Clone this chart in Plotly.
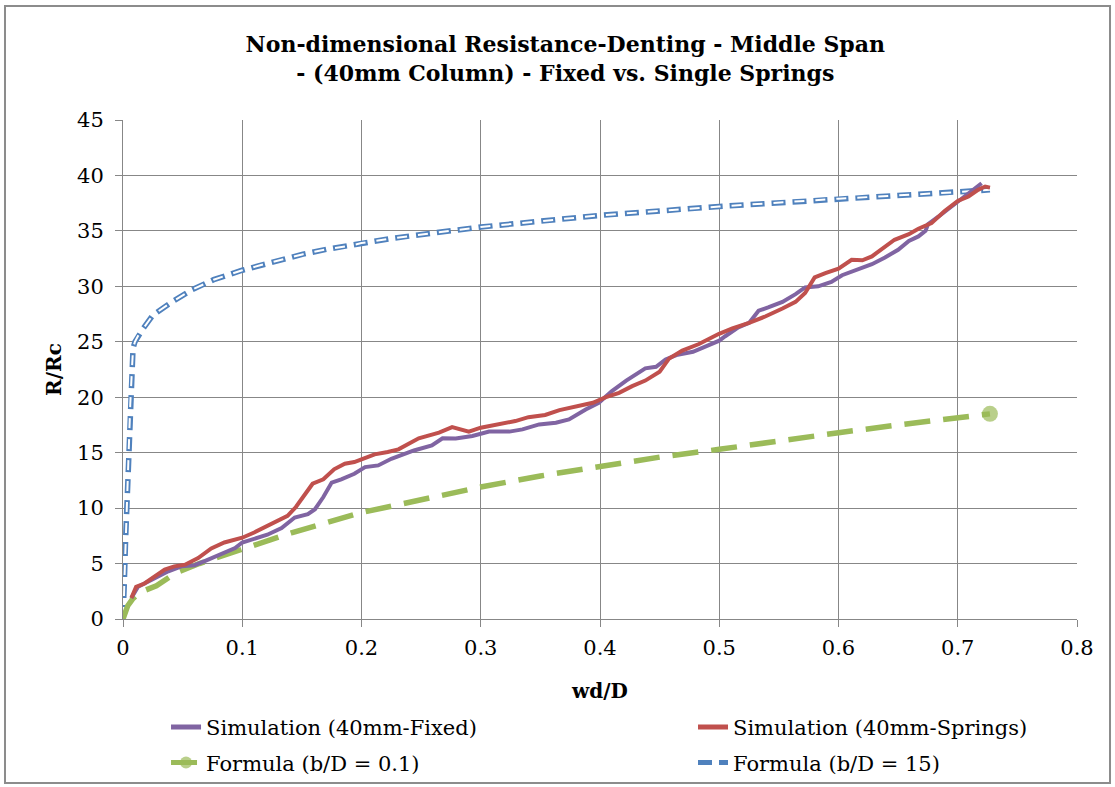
import plotly.graph_objects as go

# Simulation (40mm column, fixed ends)
fixed_x = [0.007, 0.0126, 0.018, 0.027, 0.038, 0.049, 0.06, 0.068, 0.082, 0.094,
           0.1, 0.11, 0.121, 0.133, 0.144, 0.155, 0.161, 0.168, 0.175, 0.183,
           0.194, 0.203, 0.214, 0.225, 0.244, 0.259, 0.268, 0.279, 0.293, 0.307,
           0.324, 0.335, 0.349, 0.363, 0.374, 0.388, 0.399, 0.41, 0.422, 0.438,
           0.447, 0.455, 0.464, 0.478, 0.489, 0.5, 0.505, 0.516, 0.525, 0.533,
           0.541, 0.553, 0.564, 0.572, 0.583, 0.594, 0.603, 0.614, 0.628, 0.639,
           0.65, 0.659, 0.667, 0.673, 0.675, 0.684, 0.695, 0.706, 0.715, 0.72]
fixed_y = [1.9, 2.9, 3.2, 3.7, 4.3, 4.75, 4.85, 5.2, 5.8, 6.4,
           6.9, 7.2, 7.6, 8.2, 9.15, 9.45, 9.9, 11.0, 12.3, 12.6,
           13.1, 13.7, 13.85, 14.45, 15.2, 15.65, 16.3, 16.27, 16.5, 16.9,
           16.9, 17.1, 17.55, 17.7, 18.0, 18.9, 19.5, 20.55, 21.5, 22.6,
           22.75, 23.4, 23.8, 24.1, 24.6, 25.1, 25.5, 26.3, 26.7, 27.8,
           28.1, 28.6, 29.3, 29.9, 30.0, 30.4, 31.0, 31.4, 32.0, 32.6,
           33.3, 34.1, 34.5, 35.0, 35.6, 36.3, 37.2, 38.1, 38.9, 39.3]

# Simulation (40mm column, single springs)
springs_x = [0.007, 0.011, 0.018, 0.027, 0.035, 0.043, 0.052, 0.063, 0.074, 0.085,
             0.1, 0.11, 0.124, 0.138, 0.145, 0.152, 0.159, 0.168, 0.177, 0.186,
             0.194, 0.2, 0.211, 0.222, 0.231, 0.248, 0.265, 0.276, 0.29, 0.3,
             0.315, 0.329, 0.34, 0.354, 0.366, 0.38, 0.394, 0.405, 0.416, 0.427,
             0.438, 0.45, 0.458, 0.469, 0.483, 0.4994, 0.511, 0.525, 0.539, 0.553,
             0.564, 0.572, 0.58, 0.589, 0.6, 0.611, 0.62, 0.628, 0.636, 0.647,
             0.659, 0.667, 0.678, 0.689, 0.7, 0.709, 0.717, 0.723, 0.727]
springs_y = [1.9, 2.9, 3.2, 3.85, 4.45, 4.75, 4.9, 5.5, 6.36, 6.9,
             7.33, 7.8, 8.5, 9.3, 10.1, 11.1, 12.2, 12.6, 13.5, 14.0,
             14.15, 14.4, 14.85, 15.06, 15.3, 16.3, 16.8, 17.3, 16.9, 17.25,
             17.6, 17.85, 18.2, 18.4, 18.84, 19.14, 19.5, 20.0, 20.4, 21.0,
             21.5, 22.3, 23.5, 24.2, 24.8, 25.7, 26.2, 26.7, 27.3, 28.0,
             28.6, 29.4, 30.8, 31.2, 31.6, 32.4, 32.35, 32.7, 33.3, 34.2,
             34.7, 35.2, 35.7, 36.8, 37.7, 38.1, 38.7, 39.0, 38.9]

# Formula, b/D = 0.1
f01_x = [0, 0.004, 0.008, 0.014, 0.028, 0.045, 0.064, 0.092, 0.112, 0.142,
         0.2, 0.25, 0.3, 0.35, 0.4, 0.45, 0.5, 0.55, 0.6, 0.65, 0.7, 0.727]
f01_y = [0, 1.2, 1.8, 2.4, 3.0, 4.2, 5.0, 6.0, 6.7, 7.8,
         9.6, 10.8, 11.9, 12.9, 13.8, 14.6, 15.3, 16.1, 16.8, 17.5, 18.1, 18.5]

# Formula, b/D = 15
f15_x = [0, 0.0006, 0.0011, 0.0022, 0.0036, 0.005, 0.0061, 0.0075, 0.0084, 0.010,
         0.013, 0.017, 0.025, 0.041, 0.058, 0.076, 0.1, 0.115, 0.133, 0.151,
         0.171, 0.19, 0.2, 0.227, 0.3, 0.4, 0.5, 0.6, 0.7, 0.727]
f15_y = [0, 1, 3.2, 7.2, 11.3, 15.7, 19.4, 22.5, 24.4, 25.0,
         25.6, 26.2, 27.4, 28.6, 29.7, 30.6, 31.45, 31.9, 32.4, 32.9,
         33.35, 33.65, 33.9, 34.35, 35.35, 36.4, 37.2, 37.9, 38.5, 38.7]

x_ticks = [0, 0.1, 0.2, 0.3, 0.4, 0.5, 0.6, 0.7, 0.8]
x_tick_labels = ["0", "0.1", "0.2", "0.3", "0.4", "0.5", "0.6", "0.7", "0.8"]
y_ticks = [0, 5, 10, 15, 20, 25, 30, 35, 40, 45]

FONT = "DejaVu Serif"
GRID = "#878787"

fig = go.Figure()

# b/D = 15: blue dashed outline with a white core (compound line look)
fig.add_trace(go.Scatter(
    x=f15_x, y=f15_y, mode="lines", name="Formula (b/D = 15)",
    line=dict(color="#4F81BD", width=5.5, dash="14px,7px"),
    legend="legend4",
))
fig.add_trace(go.Scatter(
    x=f15_x, y=f15_y, mode="lines", showlegend=False, hoverinfo="skip",
    line=dict(color="white", width=2, dash="0px,2px,10px,9px"),
))

# b/D = 0.1: thick green dashes, marker on the final point
f01_sizes = [0] * (len(f01_x) - 1) + [16]
fig.add_trace(go.Scatter(
    x=f01_x, y=f01_y, mode="lines+markers", name="Formula (b/D = 0.1)",
    line=dict(color="#9BBB59", width=5.5, dash="26px,13px"),
    marker=dict(color="#9BBB59", size=f01_sizes, line=dict(width=0)),
    legend="legend3",
))

fig.add_trace(go.Scatter(
    x=fixed_x, y=fixed_y, mode="lines", name="Simulation (40mm-Fixed)",
    line=dict(color="#8064A2", width=4), legend="legend",
))
fig.add_trace(go.Scatter(
    x=springs_x, y=springs_y, mode="lines", name="Simulation (40mm-Springs)",
    line=dict(color="#C0504D", width=4), legend="legend2",
))

# outer chart frame
fig.add_shape(type="rect", xref="paper", yref="paper",
              x0=-0.1237, x1=1.0346, y0=-0.3287, y1=1.2285,
              line=dict(color="#8C8C8C", width=2), layer="below")

legend_common = dict(
    orientation="h", xanchor="left", yanchor="top",
    font=dict(size=21, family=FONT, color="black"),
    bgcolor="rgba(0,0,0,0)", itemsizing="constant",
)
col1_x, col2_x = 0.0451, 0.5975
row1_y, row2_y = -0.176, -0.247

fig.update_layout(
    width=1115, height=787,
    paper_bgcolor="white", plot_bgcolor="white",
    margin=dict(l=123, r=38, t=120, b=168, autoexpand=False),
    font=dict(family=FONT, color="black"),
    title=dict(
        text="Non-dimensional Resistance-Denting - Middle Span<br>- (40mm Column) - Fixed vs. Single Springs",
        font=dict(family=FONT, size=22, color="black", weight="bold"),
        x=0.507, xref="container", xanchor="center",
        y=0.934, yref="container", yanchor="top",
    ),
    xaxis=dict(
        range=[0, 0.8], tickvals=x_ticks, ticktext=x_tick_labels,
        showgrid=True, gridcolor=GRID, gridwidth=1,
        showline=True, linecolor=GRID, linewidth=1,
        ticks="outside", ticklen=7, tickcolor=GRID, ticklabelstandoff=3,
        tickfont=dict(size=21, family=FONT), zeroline=False,
        title=dict(text="wd/D", font=dict(size=20, family=FONT, weight="bold"), standoff=24),
    ),
    yaxis=dict(
        range=[0, 45], tickvals=y_ticks,
        showgrid=True, gridcolor=GRID, gridwidth=1,
        showline=True, linecolor=GRID, linewidth=1,
        ticks="outside", ticklen=7, tickcolor=GRID, ticklabelstandoff=7,
        tickfont=dict(size=21, family=FONT), zeroline=False,
        title=dict(text="R/Rc", font=dict(size=20, family=FONT, weight="bold"), standoff=10),
    ),
    legend=dict(legend_common, x=col1_x, y=row1_y),
    legend2=dict(legend_common, x=col2_x, y=row1_y),
    legend3=dict(legend_common, x=col1_x, y=row2_y),
    legend4=dict(legend_common, x=col2_x, y=row2_y),
    showlegend=True,
)

fig.write_html("out.html")
